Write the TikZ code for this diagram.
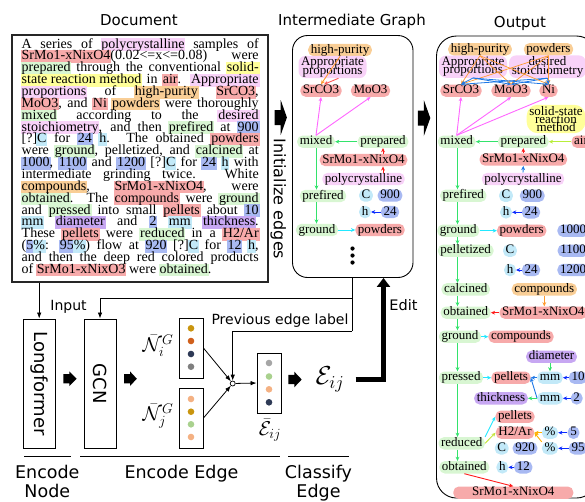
\RequirePackage{fix-cm}
\documentclass[tikz,border=0pt]{standalone}
\usepackage{fontspec}
\setmainfont{Liberation Serif}
\newfontfamily\sansf{DejaVu Sans}
\usetikzlibrary{arrows.meta,calc}

\definecolor{cG}{HTML}{D8F6D2}
\definecolor{cR}{HTML}{F7AAAA}
\definecolor{cV}{HTML}{F8D2F8}
\definecolor{cO}{HTML}{F9CE96}
\definecolor{cY}{HTML}{FFFF99}
\definecolor{cB}{HTML}{A8B9F2}
\definecolor{cC}{HTML}{C2E9F8}
\definecolor{cP}{HTML}{C7A7F2}
\definecolor{aG}{HTML}{33E36B}
\definecolor{aM}{HTML}{FF66FF}
\definecolor{aR}{HTML}{FF1A1A}
\definecolor{aB}{HTML}{0A2AFF}
\definecolor{aC}{HTML}{22E8FF}
\definecolor{aO}{HTML}{FF9A2E}
\definecolor{aD}{HTML}{1E78E6}
\definecolor{aL}{HTML}{B8EE3A}
\definecolor{aA}{HTML}{FFB000}
\definecolor{aS}{HTML}{FF5A5A}
\definecolor{aY}{HTML}{C4E43C}
\definecolor{dGold}{HTML}{C9950E}
\definecolor{dRust}{HTML}{D0601C}
\definecolor{dNavy}{HTML}{2E3A56}
\definecolor{dGray}{HTML}{7F7F7F}
\definecolor{dPeach}{HTML}{F4B183}
\definecolor{dGreen}{HTML}{A9D18E}
\definecolor{dLGray}{HTML}{A6A6A6}

\newbox\hlb
\newcommand\hlbox[2]{\setbox\hlb\hbox{#2}\rlap{\kern-0.8pt\textcolor{#1}{\vrule width\dimexpr\wd\hlb+1.6pt\relax height 9.6pt depth 3.2pt}}\box\hlb}
\newcommand\hlV[1]{\hlbox{cV}{#1}}
\newcommand\hlR[1]{\hlbox{cR}{#1}}
\newcommand\hlG[1]{\hlbox{cG}{#1}}
\newcommand\hlY[1]{\hlbox{cY}{#1}}
\newcommand\hlO[1]{\hlbox{cO}{#1}}
\newcommand\hlB[1]{\hlbox{cB}{#1}}
\newcommand\hlC[1]{\hlbox{cC}{#1}}
\newcommand\hlP[1]{\hlbox{cP}{#1}}
\newcommand\stk[1]{\vbox{\baselineskip=8.4pt\lineskiplimit=-20pt\lineskip=0pt\halign{\hfil##\hfil\cr#1\crcr}}}
\newcommand\gfont{\fontsize{13}{13}\selectfont}
\newcommand\docfont{\fontsize{14}{14}\selectfont}
\newcommand\fatarrow[6]{\fill (#1,{#2-#3}) -- ({#1+#5},{#2-#3}) -- ({#1+#5},{#2-#4}) -- ({#1+#5+#6},#2) -- ({#1+#5},{#2+#4}) -- ({#1+#5},{#2+#3}) -- (#1,{#2+#3}) -- cycle;}
\newcommand\DL[1]{\makebox[237pt][s]{#1}}

\tikzset{
 gbase/.style={rounded corners=5.5pt, inner xsep=2.6pt, inner ysep=0.4pt, text height=9pt, text depth=2.6pt, font=\gfont},
 mbase/.style={rounded corners=7pt, inner xsep=2.6pt, inner ysep=1.2pt, font=\gfont},
 gN/.style={gbase, fill=cG}, rN/.style={gbase, fill=cR}, vN/.style={gbase, fill=cV},
 oN/.style={gbase, fill=cO}, bN/.style={gbase, fill=cB}, cN/.style={gbase, fill=cC},
 pN/.style={gbase, fill=cP},
 vM/.style={mbase, fill=cV}, yM/.style={mbase, fill=cY, rounded corners=11pt},
 ga/.style={-{Stealth[length=4.2pt,width=3.8pt]}, line width=0.9pt},
 ta/.style={-{Latex[length=6pt,width=4.5pt]}, line width=0.8pt},
 dline/.style={inner sep=0, anchor=base west, font=\docfont},
 sfont/.style={font=\sansf\fontsize{#1}{#1}\selectfont},
 mfont/.style={font=\fontsize{#1}{#1}\selectfont, inner sep=0},
 blk/.style={draw, line width=0.9pt, inner sep=0},
}

\begin{document}
\begin{tikzpicture}[x=1pt,y=-1pt]
\useasboundingbox (0,0) rectangle (585,501);
\begin{scope}
\clip (0,0) rectangle (585,501);

% titles
\node[sfont=15, anchor=base] (tDoc) at (139,25) {Document};
\node[sfont=15, anchor=base] (tIG) at (352,25) {Intermediate Graph};
\node[sfont=15, anchor=base] (tOut) at (520,27) {Output};

% document
\node[draw=black!85, line width=1.3pt, minimum width=256pt, minimum height=247pt, inner sep=0] (docbox) at (140,158.5) {};
\node[dline] (d1) at (21.5,48) {\DL{A series of \hlV{polycrystalline} samples of}};
\node[dline] (d2) at (21.5,59.86) {\DL{\hlR{SrMo1-xNixO4}(0.02<=x<=0.08) were}};
\node[dline] (d3) at (21.5,71.71) {\DL{\hlG{prepared} through the conventional \hlY{solid-}}};
\node[dline] (d4) at (21.5,83.57) {\DL{\hlY{state reaction method} in \hlR{air}. \hlV{Appropriate}}};
\node[dline] (d5) at (21.5,95.43) {\DL{\hlV{proportions} of \hlO{high-purity} \hlR{SrCO3},}};
\node[dline] (d6) at (21.5,107.29) {\DL{\hlR{MoO3}, and \hlR{Ni} \hlO{powders} were thoroughly}};
\node[dline] (d7) at (21.5,119.14) {\DL{\hlG{mixed} according to the \hlV{desired}}};
\node[dline] (d8) at (21.5,131.0) {\DL{\hlV{stoichiometry}, and then \hlG{prefired} at \hlB{900}}};
\node[dline] (d9) at (21.5,142.86) {\DL{[?]\hlC{C} for \hlB{24} \hlC{h}. The obtained \hlR{powders}}};
\node[dline] (d10) at (21.5,154.71) {\DL{were \hlG{ground}, pelletized, and \hlG{calcined} at}};
\node[dline] (d11) at (21.5,166.57) {\DL{\hlB{1000}, \hlB{1100} and \hlB{1200} [?]\hlC{C} for \hlB{24} \hlC{h} with}};
\node[dline] (d12) at (21.5,178.43) {\DL{intermediate grinding twice. White}};
\node[dline] (d13) at (21.5,190.29) {\DL{\hlO{compounds}, \hlR{SrMo1-xNixO4}, were}};
\node[dline] (d14) at (21.5,202.14) {\DL{\hlG{obtained}. The \hlR{compounds} were \hlG{ground}}};
\node[dline] (d15) at (21.5,214.0) {\DL{and \hlG{pressed} into small \hlR{pellets} about \hlB{10}}};
\node[dline] (d16) at (21.5,225.86) {\DL{\hlC{mm} \hlP{diameter} and \hlB{2} \hlC{mm} \hlP{thickness}.}};
\node[dline] (d17) at (21.5,237.71) {\DL{These \hlR{pellets} were \hlG{reduced} in a \hlR{H2/Ar}}};
\node[dline] (d18) at (21.5,249.57) {\DL{(\hlB{5}\hlC{\%}: \hlB{95}\hlC{\%}) flow at \hlB{920} [?]\hlC{C} for \hlB{12} \hlC{h},}};
\node[dline] (d19) at (21.5,261.43) {\DL{and then the deep red colored products}};
\node[dline] (d20) at (21.5,273.29) {of \hlR{SrMo1-xNixO3} were \hlG{obtained}.};

% panel arrows
\fatarrow{274.7}{117.5}{7.5}{17.5}{6}{6.2}
\fatarrow{417.8}{118}{7.5}{18}{6}{6.5}
\node[sfont=16, rotate=-90] (tInit) at (278.4,199) {Initialize edges};

% intermediate graph
\node[draw, line width=0.9pt, rounded corners=15pt, minimum width=120.5pt, minimum height=242pt, inner sep=0] (igraph) at (352.75,156.5) {};
\coordinate (cxI) at (316.5,0);
\node[oN] (hpI) at (340,50) {high-purity};
\node[vM] (apI) at (332.5,67) {\stk{Appropriate\cr proportions}};
\node[rN] (srI) at (321,90.7) {SrCO3};
\node[rN] (moI) at (370.5,90.7) {MoO3};
\node[gN] (mxI) at (316,141.7) {mixed};
\node[gN] (prI) at (383,141.7) {prepared};
\node[rN] (snI) at (363.5,160) {SrMo1-xNixO4};
\node[vN] (pcI) at (363.5,179) {polycrystalline};
\node[gN] (pfI) at (323,196) {prefired};
\node[cN] (cI1) at (366,195.5) {C};
\node[bN] (n900I) at (390,195.5) {900};
\node[cN] (hI1) at (365,212) {h};
\node[bN] (n24I) at (390,212) {24};
\node[gN] (grI) at (317,230) {ground};
\node[rN] (pwI) at (380,230) {powders};
\fill (352.5,248.5) circle (2.1) (352.5,255.5) circle (2.1) (352.5,262.5) circle (2.1);

\draw[ga,aO] (hpI.south) -- (srI.north);
\draw[ga,aS] ($(apI.south)+(6,0)$) -- ($(srI.north)+(3,0)$);
\draw[ga,aM] (mxI.north) -- (srI.south);
\draw[ga,aM] (mxI.north) -- (moI.south);
\draw[ga,aG] (prI.west) -- (mxI.east);
\draw[ga,aR] (snI.north -| prI) -- (prI.south);
\draw[ga,aR] (pcI.north -| prI) -- (snI.south -| prI);
\draw[ga,aG] (mxI.south -| cxI) -- (pfI.north -| cxI);
\draw[ga,aG] (pfI.south -| cxI) -- (grI.north -| cxI);
\draw[ga,aB] (n24I.west) -- (hI1.east);
\draw[ga,aC] (grI.east) -- (pwI.west);

% output graph
\node[draw, line width=0.9pt, rounded corners=20pt, minimum width=160pt, minimum height=462pt, inner sep=0] (ograph) at (516.5,267) {};
\coordinate (cxO) at (457.5,0);
\node[oN] (hpO) at (480,49.3) {high-purity};
\node[oN] (pwO1) at (548.5,49.3) {powders};
\node[vM] (apO) at (473,66.7) {\stk{Appropriate\cr proportions}};
\node[vM] (dsO) at (547.5,66.7) {\stk{desired\cr stoichiometry}};
\node[rN] (srO) at (461,90.7) {SrCO3};
\node[rN] (moO) at (511,90.7) {MoO3};
\node[rN] (niO) at (548.5,90.7) {Ni};
\node[yM] (ssO) at (556,119) {\stk{solid-state\cr reaction\cr method}};
\node[gN] (mxO) at (456.7,141.7) {mixed};
\node[gN] (prO) at (523.3,141.7) {prepared};
\node[rN] (airO) at (581,141.7) {air};
\node[rN] (snO1) at (523.3,159.5) {SrMo1-xNixO4};
\node[vN] (pcO) at (523,179) {polycrystalline};
\node[gN] (pfO) at (463.3,195.7) {prefired};
\node[cN] (cO1) at (506,195.7) {C};
\node[bN] (n900O) at (532.3,195.7) {900};
\node[cN] (hO1) at (506,212.3) {h};
\node[bN] (n24O1) at (531,212.3) {24};
\node[gN] (grO1) at (458.3,230.7) {ground};
\node[rN] (pwO2) at (521.7,230.7) {powders};
\node[bN] (n1000) at (573,230.7) {1000};
\node[gN] (plO) at (465.7,250.7) {pelletized};
\node[cN] (cO2) at (510,250.7) {C};
\node[bN] (n1100) at (573,250.7) {1100};
\node[cN] (hO2) at (510,270) {h};
\node[bN] (n24O2) at (531,270) {24};
\node[bN] (n1200) at (573,270) {1200};
\node[gN] (caO) at (465.7,289.3) {calcined};
\node[oN] (cpO1) at (544.3,289.3) {compounds};
\node[gN] (obO1) at (465.7,312.7) {obtained};
\node[rN] (snO2) at (543.3,312.7) {SrMo1-xNixO4};
\node[gN] (grO2) at (460,336.7) {ground};
\node[rN] (cpO2) at (521,336.7) {compounds};
\node[pN] (diO) at (551.5,356.7) {diameter};
\node[gN] (psO) at (461,377.7) {pressed};
\node[rN] (plt1) at (511,377.7) {pellets};
\node[cN] (mm1) at (550,377.7) {mm};
\node[bN] (n10) at (578,377.7) {10};
\node[pN] (thO) at (501,398.3) {thickness};
\node[cN] (mm2) at (550,398.3) {mm};
\node[bN] (n2) at (576.7,398.3) {2};
\node[rN] (plt2) at (515,416.7) {pellets};
\node[rN] (h2O) at (515,432.7) {H2/Ar};
\node[cN] (pc1) at (550,432.7) {\%};
\node[bN] (n5) at (573.5,432.7) {5};
\node[gN] (rdO) at (461.7,443.3) {reduced};
\node[cN] (cO3) at (501.7,448.3) {C};
\node[bN] (n920) at (525,448.3) {920};
\node[cN] (pc2) at (550,448.3) {\%};
\node[bN] (n95) at (578,448.3) {95};
\node[gN] (obO2) at (464.3,467.3) {obtained};
\node[cN] (hO3) at (502.3,467.3) {h};
\node[bN] (n12) at (523.3,467.3) {12};
\node[rN, minimum width=120pt] (snO3) at (513.3,492.7) {SrMo1-xNixO4};

\foreach \t in {srO,moO,niO}{
  \draw[ga,aO,line width=0.7pt] (hpO.south) -- (\t.north);
  \draw[ga,aO,line width=0.7pt] (pwO1.south) -- (\t.north);
  \draw[ga,aD,line width=0.8pt] (apO.south) -- (\t.north);
  \draw[ga,aD,line width=0.8pt] (dsO.south) -- (\t.north);
  \draw[ga,aM] (mxO.north) -- (\t.south);
}
\draw[ga,aG] (prO.west) -- (mxO.east);
\draw[ga,aL] (airO.west) -- (prO.east);
\draw[ga,aR] (snO1.north) -- (prO.south);
\draw[ga,aD] (pcO.north) -- (snO1.south);
\foreach \a/\b in {mxO/pfO,pfO/grO1,grO1/plO,plO/caO,caO/obO1,obO1/grO2,grO2/psO,psO/rdO,rdO/obO2}
  \draw[ga,aG] (\a.south -| cxO) -- (\b.north -| cxO);
\draw[ga,aB] (n24O1.west) -- (hO1.east);
\draw[ga,aB] (n24O2.west) -- (hO2.east);
\draw[ga,aC] (grO1.east) -- (pwO2.west);
\draw[ga,aO] (cpO1.south) -- (snO2.north -| cpO1);
\draw[ga,aR] (snO2.west) -- (obO1.east);
\draw[ga,aC] (grO2.east) -- (cpO2.west);
\draw[ga,aG] (diO.south -| mm1) -- (mm1.north);
\draw[ga,aC] (psO.east) -- (plt1.west);
\draw[ga,aD] (mm1.west) -- (plt1.east);
\draw[ga,aB] (n10.west) -- (mm1.east);
\draw[ga,aD] (mm2.west) -- (plt1.east);
\draw[ga,aG] (mm2.west) -- (thO.east);
\draw[ga,aB] (n2.west) -- (mm2.east);
\draw[ga,aC] (rdO.north east) -- (plt2.west);
\draw[ga,aY] (rdO.east) -- (h2O.west);
\draw[ga,aA] (pc1.west) -- (h2O.east);
\draw[ga,aA] (pc2.north west) -- (h2O.east);
\draw[ga,aB] (n5.west) -- (pc1.east);
\draw[ga,aB] (n95.west) -- (pc2.east);
\draw[ga,aB] (n12.west) -- (hO3.east);
\draw[ga,aR] (obO2.south) -- (snO3.north);

% bottom pipeline
\node[blk, minimum width=32pt, minimum height=129pt] (lf) at (39.2,383.5) {\sansf\fontsize{18}{18}\selectfont\rotatebox{-90}{Longformer}};
\node[blk, minimum width=32pt, minimum height=129pt] (gcn) at (100,383.5) {\sansf\fontsize{18}{18}\selectfont\rotatebox{-90}{GCN}};
\draw[ta] (docbox.south -| lf) -- (lf.north);
\node[sfont=14] (tInput) at (68.5,307) {Input};
\fatarrow{63.3}{378.7}{4.6}{7.3}{6}{7.4}
\fatarrow{124}{378.7}{4.6}{7.3}{6}{6.8}

\node[blk, minimum width=24pt, minimum height=60pt] (nI) at (191,348) {};
\node[blk, minimum width=24pt, minimum height=60pt] (nJ) at (191,418) {};
\fill[dGold] (191,328.3) circle (3.3);
\fill[dRust] (191,341) circle (3.3);
\fill[dNavy] (191,354) circle (3.3);
\fill[dGray] (191,366.7) circle (3.3);
\fill[dPeach] (191,399) circle (3.3);
\fill[dGold] (191,411.7) circle (3.3);
\fill[dGreen] (191,424.3) circle (3.3);
\fill[dPeach] (191,437) circle (3.3);
\node[mfont=20] (lNi) at (158,346) {$\bar{\mathcal{N}}_i^G$};
\node[mfont=20] (lNj) at (158,416) {$\bar{\mathcal{N}}_j^G$};

\node[circle, draw, fill=white, inner sep=0, minimum size=5pt, line width=0.7pt] (comb) at (232.7,383.5) {};
\draw[ta] (nI.east) -- (comb);
\draw[ta] (nJ.east) -- (comb);

\node[blk, minimum width=24pt, minimum height=60pt] (ebox) at (269,383) {};
\fill[dLGray] (269,363) circle (3.3);
\fill[dGreen] (269,376.5) circle (3.3);
\fill[dPeach] (269,389.3) circle (3.3);
\fill[dNavy] (269,402.3) circle (3.3);
\draw[ta] (comb) -- (ebox.west);
\node[mfont=20] (lE) at (270,430) {$\bar{\mathcal{E}}_{ij}$};

\fatarrow{288.3}{379.5}{4.6}{7.8}{6}{7.4}
\node[mfont=26] (Eij) at (330,379) {$\mathcal{E}_{ij}$};

\coordinate (j1) at (352,298);
\coordinate (j2) at (352,331);
\draw[line width=0.8pt] (j1 |- igraph.south) -- (j2);
\draw[ta] (j1) -- (j1 -| gcn) -- (gcn.north);
\draw[ta] (j2) -- (j2 -| comb) -- (comb.north);
\node[sfont=14] (tPrev) at (280,321) {Previous edge label};

\coordinate (ec) at (383.5,379);
\draw[line width=5pt, line join=miter, -{Triangle[width=13pt,length=9pt]}] ($(Eij.east)+(11,0)$) -- (ec) -- (ec |- igraph.south);
\node[sfont=14.5] (tEdit) at (403.5,305) {Edit};

% bottom labels
\coordinate (s1a) at (24,456); \coordinate (s1b) at (70.7,456);
\coordinate (s2a) at (80,456); \coordinate (s2b) at (280,456);
\coordinate (s3a) at (288.3,456); \coordinate (s3b) at (349.3,456);
\draw[line width=0.8pt] (s1a) -- (s1b);
\draw[line width=0.8pt] (s2a) -- (s2b);
\draw[line width=0.8pt] (s3a) -- (s3b);
\node[sfont=17.5, anchor=base] (bEnc) at (47.3,478.5) {Encode};
\node[sfont=17.5, anchor=base] (bNode) at (47.3,497) {Node};
\node[sfont=17.5, anchor=base] (bEE) at (181.5,478.5) {Encode Edge};
\node[sfont=17.5, anchor=base] (bCl) at (318.5,478.5) {Classify};
\node[sfont=17.5, anchor=base] (bEdge) at (318.5,497) {Edge};
\end{scope}
\end{tikzpicture}
\end{document}
